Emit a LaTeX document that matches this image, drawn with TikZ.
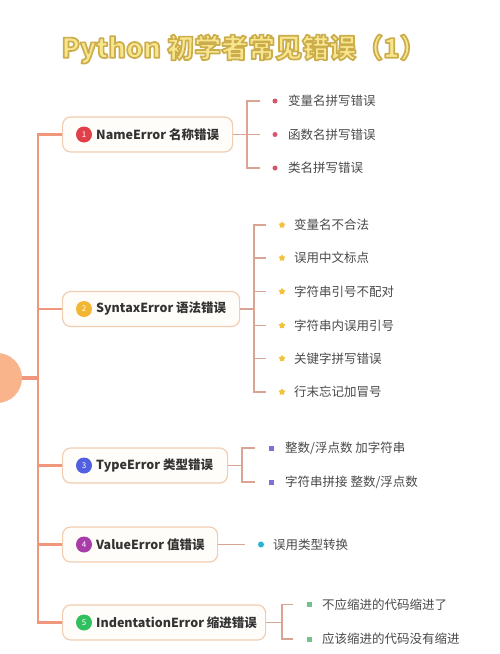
\documentclass[tikz,border=0pt]{standalone}
\usepackage{fontspec}
\setmainfont{Noto Sans CJK SC}
\usetikzlibrary{shapes.geometric}
\definecolor{trunkc}{HTML}{F0967A}
\definecolor{rootc}{HTML}{F9B48C}
\definecolor{boxline}{HTML}{F2CDB2}
\definecolor{boxfill}{HTML}{FFFDF9}
\definecolor{brk}{HTML}{D9A592}
\definecolor{darktext}{HTML}{333333}
\definecolor{itemtext}{HTML}{4A4A4A}
\definecolor{titlefill}{HTML}{F8E68E}
\definecolor{c1}{HTML}{E0404A}
\definecolor{c2}{HTML}{F2B632}
\definecolor{c3}{HTML}{5060E0}
\definecolor{c4}{HTML}{A83CA8}
\definecolor{c5}{HTML}{30C060}
\definecolor{u1}{HTML}{D4566A}
\definecolor{u2}{HTML}{F2C23A}
\definecolor{u3}{HTML}{7F6FD8}
\definecolor{u4}{HTML}{28B4D8}
\definecolor{u5}{HTML}{72C38A}
% outlined title text: fill in titlefill, stroke in a golden tone
\newcommand{\outlinedtext}[1]{\special{pdf:code q}\textcolor{titlefill}{\special{pdf:code 0.80 0.68 0.30 RG 2 Tr 1.7 w 1 j}#1\special{pdf:code 0 Tr}}\special{pdf:code Q}}
\begin{document}
\begin{tikzpicture}[x=1pt,y=-1pt,
  box/.style={draw=boxline, fill=boxfill, rounded corners=8pt, line width=1.2pt, minimum height=35pt, anchor=west, inner sep=0pt},
  num/.style={circle, fill=#1, text=white, minimum size=16pt, inner sep=0pt, font=\fontsize{8}{8}\selectfont},
  lab/.style={anchor=west, inner sep=0pt, font=\bfseries\fontsize{12.5}{12.5}\selectfont, text=darktext},
  item/.style={anchor=west, inner sep=0pt, font=\fontsize{12.5}{12.5}\selectfont, text=itemtext},
  trunk/.style={draw=trunkc, line width=2.8pt},
  br/.style={draw=brk, line width=1.1pt},
  bulred/.style={circle, fill=u1, minimum size=5pt, inner sep=0pt},
  bulstar/.style={star, star points=5, star point ratio=1.6, fill=u2, minimum size=7pt, inner sep=0pt},
  bulpur/.style={rectangle, fill=u3, minimum size=5pt, inner sep=0pt},
  bulcyan/.style={circle, fill=u4, minimum size=6pt, inner sep=0pt},
  bulgreen/.style={rectangle, fill=u5, minimum size=5pt, inner sep=0pt},
  ttl/.style={inner sep=0pt, font=\bfseries\fontsize{27}{27}\selectfont}
]
\useasboundingbox (0,0) rectangle (500,654);
\fill[white] (0,0) rectangle (500,654);

% title
\node[ttl] (title) at (244,49) {\outlinedtext{Python 初学者常见错误（1）}};

% root
\node[circle, fill=rootc, minimum size=50pt, inner sep=0pt] (root) at (-3,378) {};
\coordinate (tk) at (38,378);

% boxes
\node[box, minimum width=170pt] (b1) at (62,134.5) {};
\node[box, minimum width=177pt] (b2) at (62,309) {};
\node[box, minimum width=165pt] (b3) at (62,465.5) {};
\node[box, minimum width=155pt] (b4) at (62,544.5) {};
\node[box, minimum width=203pt] (b5) at (62,622.5) {};

\node[num=c1] (n1) at ([xshift=22pt]b1.west) {1};
\node[num=c2] (n2) at ([xshift=22pt]b2.west) {2};
\node[num=c3] (n3) at ([xshift=22pt]b3.west) {3};
\node[num=c4] (n4) at ([xshift=22pt]b4.west) {4};
\node[num=c5] (n5) at ([xshift=22pt]b5.west) {5};

\node[lab] (l1) at ([xshift=34pt]b1.west) {NameError 名称错误};
\node[lab] (l2) at ([xshift=34pt]b2.west) {SyntaxError 语法错误};
\node[lab] (l3) at ([xshift=34pt]b3.west) {TypeError 类型错误};
\node[lab] (l4) at ([xshift=34pt]b4.west) {ValueError 值错误};
\node[lab] (l5) at ([xshift=34pt]b5.west) {IndentationError 缩进错误};

% trunk
\draw[trunk] (b1.west) -| (tk |- b5.west) -- (b5.west);
\draw[trunk] (tk |- b2.west) -- (b2.west);
\draw[trunk] (tk |- b3.west) -- (b3.west);
\draw[trunk] (tk |- b4.west) -- (b4.west);
\draw[draw=trunkc, line width=3.5pt] (root.east) -- (tk);

% group 1
\node[bulred] (u11) at (275,101) {};
\node[bulred] (u12) at (275,134.5) {};
\node[bulred] (u13) at (275,168) {};
\node[item] (i11) at (288,101) {变量名拼写错误};
\node[item] (i12) at (288,134.5) {函数名拼写错误};
\node[item] (i13) at (288,168) {类名拼写错误};
\coordinate (k1) at (247,134.5);
\draw[br] (b1.east) -- (k1) -- ([xshift=-15pt]u12.center);
\draw[br] ([xshift=-15pt]u11.center) -| (k1 |- u13) -- ([xshift=-15pt]u13.center);

% group 2
\node[bulstar] (u21) at (282,225) {};
\node[bulstar] (u22) at (282,258) {};
\node[bulstar] (u23) at (282,291.5) {};
\node[bulstar] (u24) at (282,325.5) {};
\node[bulstar] (u25) at (282,358.5) {};
\node[bulstar] (u26) at (282,392) {};
\node[item] (i21) at (294,225) {变量名不合法};
\node[item] (i22) at (294,258) {误用中文标点};
\node[item] (i23) at (294,291.5) {字符串引号不配对};
\node[item] (i24) at (294,325.5) {字符串内误用引号};
\node[item] (i25) at (294,358.5) {关键字拼写错误};
\node[item] (i26) at (294,392) {行末忘记加冒号};
\coordinate (k2) at (254,309);
\draw[br] (b2.east) -- (k2);
\draw[br] ([xshift=-16pt]u21.center) -| (k2 |- u26) -- ([xshift=-16pt]u26.center);
\draw[br] (k2 |- u22) -- ([xshift=-16pt]u22.center);
\draw[br] (k2 |- u23) -- ([xshift=-16pt]u23.center);
\draw[br] (k2 |- u24) -- ([xshift=-16pt]u24.center);
\draw[br] (k2 |- u25) -- ([xshift=-16pt]u25.center);

% group 3
\node[bulpur] (u31) at (271,448) {};
\node[bulpur] (u32) at (271,482) {};
\node[item] (i31) at (285,448) {整数/浮点数 加字符串};
\node[item] (i32) at (285,482) {字符串拼接 整数/浮点数};
\coordinate (k3) at (242,465.5);
\draw[br] (b3.east) -- (k3);
\draw[br] ([xshift=-16pt]u31.center) -| (k3 |- u32) -- ([xshift=-16pt]u32.center);

% group 4
\node[bulcyan] (u41) at (261,544.5) {};
\node[item] (i41) at (273,544.5) {误用类型转换};
\draw[br] (b4.east) -- ([xshift=-16pt]u41.center);

% group 5
\node[bulgreen] (u51) at (309,604.5) {};
\node[bulgreen] (u52) at (309,639) {};
\node[item] (i51) at (322,604.5) {不应缩进的代码缩进了};
\node[item] (i52) at (322,639) {应该缩进的代码没有缩进};
\coordinate (k5) at (282,622.5);
\draw[br] (b5.east) -- (k5);
\draw[br] ([xshift=-16pt]u51.center) -| (k5 |- u52) -- ([xshift=-16pt]u52.center);
\end{tikzpicture}
\end{document}
